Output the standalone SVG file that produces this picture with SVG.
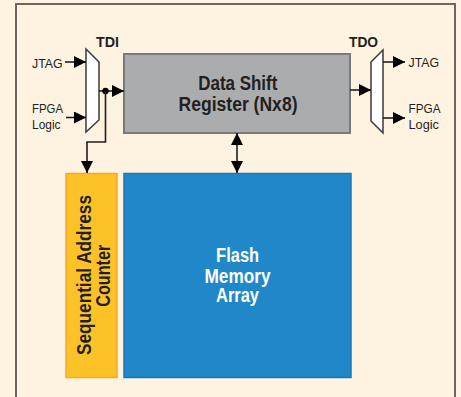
<svg xmlns="http://www.w3.org/2000/svg" width="461" height="397" viewBox="0 0 461 397">
<style>
.lbl{font-family:"Liberation Sans",Arial,Helvetica,sans-serif;}
.io{font-size:13.5px;fill:#231f20;}
.hdr{font-size:15.5px;font-weight:bold;fill:#231f20;}
.big{font-size:20px;font-weight:bold;text-anchor:middle;}
.wire{stroke:#231f20;stroke-width:1.6;fill:none;}
.mux{fill:#ffffff;stroke:#3a3a3a;stroke-width:1.5;}
</style>
<defs>
<marker id="ah" viewBox="0 0 12 12" refX="12" refY="6" markerWidth="12" markerHeight="12" markerUnits="userSpaceOnUse" orient="auto">
<path d="M0,0 L12,6 L0,12 z" fill="#000"/>
</marker>
<marker id="ahs" viewBox="0 0 12 12" refX="12" refY="6" markerWidth="12" markerHeight="12" markerUnits="userSpaceOnUse" orient="auto-start-reverse">
<path d="M0,0 L12,6 L0,12 z" fill="#000"/>
</marker>
</defs>
<rect x="0" y="0" width="461" height="397" fill="#fef3e1"/>
<rect x="16" y="4" width="439" height="430" fill="#fef3e1" stroke="#6b6661" stroke-width="2"/>

<g id="tdi-mux">
<polygon class="mux" points="86,49 99,62 99,120 86,132"/>
<text class="lbl hdr" x="96" y="46.5" textLength="23" lengthAdjust="spacingAndGlyphs">TDI</text>
</g>
<g id="tdo-mux">
<polygon class="mux" points="371,62 383,50 383,133 371,121"/>
<text class="lbl hdr" x="349" y="46.5" textLength="29" lengthAdjust="spacingAndGlyphs">TDO</text>
</g>
<g id="in-labels">
<text class="lbl io" x="32" y="67.5" textLength="30.5" lengthAdjust="spacingAndGlyphs">JTAG</text>
<text class="lbl io" x="32" y="113" textLength="31" lengthAdjust="spacingAndGlyphs">FPGA</text>
<text class="lbl io" x="32" y="128.5" textLength="28.5" lengthAdjust="spacingAndGlyphs">Logic</text>
</g>
<g id="out-labels">
<text class="lbl io" x="408.5" y="67" textLength="30.5" lengthAdjust="spacingAndGlyphs">JTAG</text>
<text class="lbl io" x="408.5" y="113" textLength="32" lengthAdjust="spacingAndGlyphs">FPGA</text>
<text class="lbl io" x="408.5" y="129" textLength="30.5" lengthAdjust="spacingAndGlyphs">Logic</text>
</g>
<g id="data-shift-register">
<rect x="124" y="54" width="226" height="79" fill="#abacae" stroke="#78797b" stroke-width="2"/>
<text class="lbl big" x="237.8" y="90" fill="#231f20" textLength="79" lengthAdjust="spacingAndGlyphs">Data Shift</text>
<text class="lbl big" x="238" y="110.5" fill="#231f20" textLength="119" lengthAdjust="spacingAndGlyphs">Register (Nx8)</text>
</g>
<g id="sequential-address-counter">
<rect x="66" y="173.5" width="51" height="204" fill="#fec229" stroke="#f7a823" stroke-width="1.5"/>
<text class="lbl big" transform="translate(90.5,275) rotate(-90)" fill="#231f20" textLength="160" lengthAdjust="spacingAndGlyphs">Sequential Address</text>
<text class="lbl big" transform="translate(110,275.8) rotate(-90)" fill="#231f20" textLength="62" lengthAdjust="spacingAndGlyphs">Counter</text>
</g>
<g id="flash-memory-array">
<rect x="124" y="173.5" width="227" height="204" fill="#2088c8" stroke="#1877b8" stroke-width="1.5"/>
<text class="lbl big" x="237.6" y="262" fill="#ffffff" textLength="43" lengthAdjust="spacingAndGlyphs">Flash</text>
<text class="lbl big" x="237.5" y="282.5" fill="#ffffff" textLength="66" lengthAdjust="spacingAndGlyphs">Memory</text>
<text class="lbl big" x="237.5" y="302" fill="#ffffff" textLength="43" lengthAdjust="spacingAndGlyphs">Array</text>
</g>
<g id="connectors">
<line class="wire" x1="65" y1="62" x2="86" y2="62" marker-end="url(#ah)"/>
<line class="wire" x1="66" y1="117.5" x2="86" y2="117.5" marker-end="url(#ah)"/>
<line class="wire" x1="99" y1="91" x2="124" y2="91" marker-end="url(#ah)"/>
<circle cx="105.5" cy="91" r="3.2" fill="#000"/>
<path class="wire" d="M105.5,91 V142 H87 V173" marker-end="url(#ah)"/>
<line class="wire" x1="237" y1="133" x2="237" y2="173" marker-start="url(#ahs)" marker-end="url(#ah)"/>
<line class="wire" x1="350" y1="90" x2="371" y2="90" marker-end="url(#ah)"/>
<line class="wire" x1="383" y1="62" x2="405" y2="62" marker-end="url(#ah)"/>
<line class="wire" x1="383" y1="118" x2="405" y2="118" marker-end="url(#ah)"/>
</g>
</svg>
